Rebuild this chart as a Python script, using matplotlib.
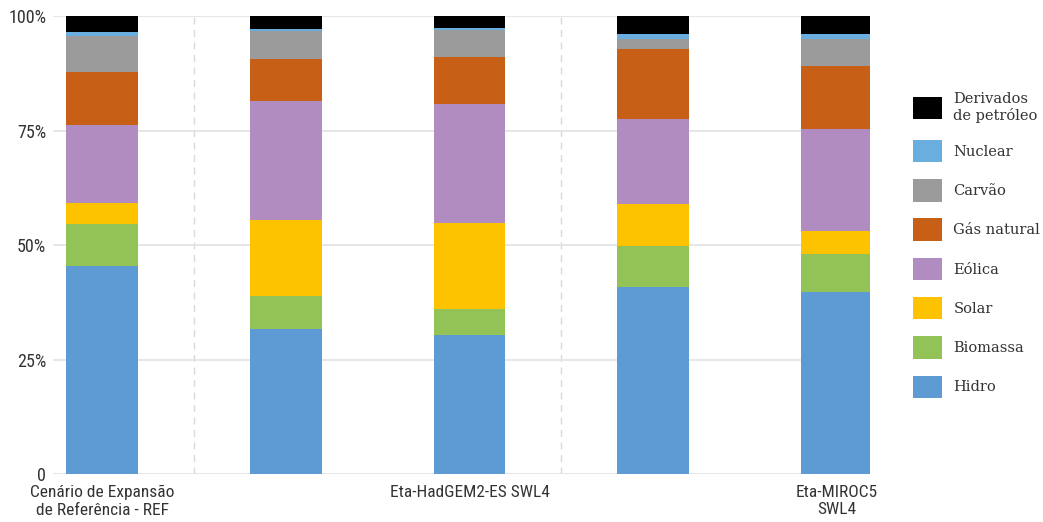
import matplotlib.pyplot as plt
from matplotlib.patches import Patch
from matplotlib import font_manager
import numpy as np

# cenários (só três com rótulo no eixo)
cenarios = ["Cenário de Expansão\nde Referência - REF", "", "Eta-HadGEM2-ES SWL4", "", "Eta-MIROC5\nSWL4"]

fontes = ["Hidro", "Biomassa", "Solar", "Eólica", "Gás natural", "Carvão", "Nuclear", "Derivados\nde petróleo"]
cores = ["#5e9bd4", "#93c257", "#fdc300", "#b08cc0", "#c85f17", "#9b9b9b", "#6aaee0", "#000000"]

# participação (%)
hidro = [45.5, 31.6, 30.3, 40.8, 39.7]
biomassa = [9.1, 7.3, 5.7, 9.0, 8.3]
solar = [4.7, 16.6, 18.9, 9.2, 5.1]
eolica = [16.9, 26.0, 26.0, 18.6, 22.2]
gas = [11.6, 9.1, 10.1, 15.3, 13.9]
carvao = [7.8, 6.2, 5.9, 2.2, 5.9]
nuclear = [1.0, 0.4, 0.6, 1.0, 1.0]
derivados = [3.4, 2.8, 2.5, 3.9, 3.9]

series = [hidro, biomassa, solar, eolica, gas, carvao, nuclear, derivados]

# fonte estreita se existir
nomes = set(f.name for f in font_manager.fontManager.ttflist)
familia_eixo = "Roboto Condensed" if "Roboto Condensed" in nomes else "Roboto"

fig = plt.figure(figsize=(10.43, 5.22), dpi=100)
ax = fig.add_axes([0.051, 0.092, 0.783, 0.877])

x = np.arange(len(cenarios))
base = np.zeros(len(cenarios))
for valores, cor, nome in zip(series, cores, fontes):
	ax.bar(x, valores, bottom=base, width=0.39, color=cor, label=nome, zorder=3)
	base = base + np.array(valores)

# separadores tracejados
for sep in [0.5, 2.5]:
	ax.axvline(sep, color="#d9d9d9", linestyle=(0, (5, 4)), linewidth=1, zorder=1)

ax.set_xlim(-0.267, 4.18)
ax.set_ylim(0, 100)
ax.set_yticks([0, 25, 50, 75, 100])
ax.set_yticklabels(["0", "25%", "50%", "75%", "100%"])
ax.set_xticks(x)
ax.set_xticklabels(cenarios)
ax.yaxis.grid(True, color="#e3e3e3", linewidth=1.2, zorder=0)
for lado in ["top", "right", "left", "bottom"]:
	ax.spines[lado].set_visible(False)
ax.tick_params(length=0, colors="#333333", labelsize=12.5)
ax.tick_params(axis="y", labelsize=13, pad=5)
ax.tick_params(axis="x", pad=8)
for t in ax.get_xticklabels() + ax.get_yticklabels():
	t.set_family(familia_eixo)
	t.set_stretch("condensed")

handles = [Patch(facecolor=c, label=n) for c, n in zip(cores, fontes)][::-1]
fig.legend(handles=handles, loc="center left", bbox_to_anchor=(0.868, 0.531), frameon=False,
	prop={"family": "DejaVu Serif", "size": 10.5}, handlelength=2.0, handleheight=2.0,
	labelspacing=1.15, handletextpad=0.8, borderpad=0, labelcolor="#333333")

fig.savefig("out.png", dpi=100)
